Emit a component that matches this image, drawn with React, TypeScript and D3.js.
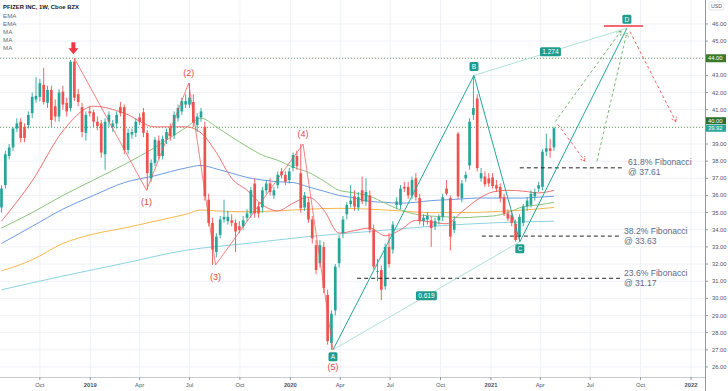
import React from 'react';
import * as d3 from 'd3';

const W = 728;
const H = 391;
const PLOT_RIGHT = 705;
const PLOT_BOTTOM = 377;
const FONT = '"Liberation Sans", Arial, sans-serif';
const UP = '#26a69a';
const DOWN = '#ef5350';

const firstBar = new Date(2018, 6, 23);
const WEEK_MS = 7 * 864e5;
const barDate = (i: number) => new Date(firstBar.getTime() + i * WEEK_MS);

// weekly bars: [open, high, low, close]
const weeklyBars: number[][] = [
  [35.3, 36.6, 35.0, 36.4], [36.6, 38.6, 36.4, 38.4], [38.3, 39.0, 38.1, 38.8], [38.8, 40.0, 38.6, 39.9],
  [39.9, 40.5, 39.7, 40.2], [40.3, 40.5, 39.1, 39.35], [40.0, 40.2, 39.1, 39.35], [40.1, 40.9, 39.9, 40.7],
  [40.8, 42.0, 40.5, 41.75], [41.6, 42.9, 41.4, 41.8], [41.75, 42.8, 41.5, 42.55], [42.45, 43.45, 41.3, 41.45],
  [41.4, 42.4, 41.1, 42.15], [42.15, 42.4, 40.0, 40.4], [41.2, 41.6, 40.3, 40.6], [40.6, 42.2, 40.3, 42.0],
  [42.05, 42.4, 41.0, 41.3], [41.4, 41.7, 40.6, 40.9], [41.1, 43.9, 40.9, 43.8], [43.8, 44.0, 41.5, 41.7],
  [41.9, 42.2, 41.2, 41.45], [41.15, 41.4, 39.4, 39.7], [39.65, 40.9, 39.2, 40.7], [40.9, 41.2, 40.6, 40.8],
  [40.85, 41.0, 40.0, 40.3], [40.3, 40.6, 39.8, 40.05], [40.2, 40.4, 38.2, 38.5], [38.4, 40.5, 37.5, 40.3],
  [40.3, 40.9, 40.0, 40.7], [40.0, 40.4, 39.7, 40.2], [40.2, 40.9, 39.9, 40.7], [41.15, 41.45, 40.6, 40.8],
  [41.15, 41.3, 38.4, 38.65], [38.65, 39.9, 38.4, 39.65], [39.55, 39.9, 39.3, 39.7], [39.65, 40.5, 39.4, 40.3],
  [40.55, 40.8, 40.1, 40.3], [40.85, 41.1, 39.4, 39.65], [39.65, 39.8, 36.35, 37.3], [37.0, 38.1, 36.8, 37.9],
  [37.9, 39.4, 37.7, 39.25], [39.2, 39.5, 38.1, 38.3], [38.3, 39.5, 38.1, 39.3], [39.25, 39.9, 39.0, 39.7],
  [39.95, 40.2, 39.2, 39.45], [39.5, 40.9, 39.3, 40.7], [40.5, 41.3, 40.3, 41.1], [40.9, 41.7, 40.7, 41.5],
  [41.3, 41.9, 41.1, 41.5], [41.3, 42.55, 41.1, 41.7], [41.45, 41.9, 40.0, 40.25], [40.1, 40.8, 39.7, 40.6],
  [40.55, 41.1, 40.3, 40.9], [40.0, 40.3, 35.7, 35.95], [35.75, 36.1, 34.2, 34.4], [34.4, 34.7, 31.95, 32.85],
  [32.7, 33.8, 32.4, 33.6], [33.7, 34.8, 33.5, 34.6], [34.6, 35.75, 34.4, 34.75], [34.5, 35.1, 34.3, 34.75],
  [34.55, 34.9, 34.2, 34.4], [34.4, 34.6, 32.7, 33.9], [34.2, 34.5, 33.8, 34.0], [34.2, 34.8, 34.0, 34.55],
  [34.7, 35.2, 34.5, 34.95], [34.95, 36.5, 34.7, 36.3], [36.7, 37.0, 34.7, 34.95], [35.35, 35.6, 34.7, 34.95],
  [35.3, 36.5, 35.0, 36.3], [36.3, 36.9, 36.1, 36.7], [36.7, 37.0, 36.0, 36.2], [36.0, 36.5, 35.8, 36.3],
  [36.6, 37.4, 36.4, 37.2], [37.4, 37.6, 37.0, 37.2], [37.2, 37.4, 36.6, 36.8], [36.9, 37.6, 36.7, 37.4],
  [37.6, 38.5, 37.4, 38.35], [38.3, 38.6, 37.5, 37.7], [37.3, 39.0, 35.0, 35.25], [35.3, 36.2, 35.1, 36.0],
  [35.6, 35.9, 34.4, 34.6], [34.6, 34.8, 33.2, 33.5], [33.1, 33.4, 31.4, 31.65], [32.05, 33.4, 31.8, 33.1],
  [33.0, 33.3, 30.3, 30.6], [30.2, 30.5, 27.3, 27.5], [27.4, 29.3, 27.0, 29.1], [29.3, 32.0, 29.0, 31.85],
  [32.05, 33.7, 31.8, 33.5], [33.8, 34.8, 33.5, 34.6], [34.9, 35.6, 34.6, 35.45], [35.5, 36.6, 35.3, 35.7],
  [35.95, 36.3, 35.1, 35.35], [35.3, 36.2, 35.1, 35.9], [36.3, 37.1, 35.5, 35.65], [35.65, 37.0, 35.4, 36.2],
  [36.0, 36.3, 33.8, 34.0], [34.0, 34.3, 31.7, 31.85], [31.55, 32.3, 31.0, 31.6], [31.65, 31.9, 29.9, 30.5],
  [30.7, 33.2, 30.5, 33.0], [33.0, 33.8, 31.8, 32.0], [32.85, 34.5, 32.6, 34.3], [35.45, 35.9, 35.2, 35.65],
  [35.45, 36.6, 35.2, 36.4], [36.5, 36.8, 36.2, 36.4], [36.5, 36.8, 35.8, 36.0], [36.0, 37.1, 35.8, 36.9],
  [37.0, 37.3, 35.7, 35.9], [35.85, 36.1, 34.3, 34.5], [34.5, 34.9, 34.2, 34.7], [34.6, 35.0, 34.3, 34.8],
  [34.55, 34.8, 33.0, 34.1], [34.2, 34.7, 34.0, 34.5], [34.55, 34.9, 34.3, 34.75], [34.75, 36.1, 34.5, 35.9],
  [36.4, 36.9, 36.0, 36.1], [35.85, 36.0, 32.8, 33.6], [34.0, 34.8, 33.8, 34.5], [39.6, 39.7, 35.8, 35.95],
  [35.85, 36.9, 35.6, 36.7], [37.0, 37.4, 36.8, 37.2], [37.75, 40.5, 37.5, 40.3], [40.7, 43.0, 40.4, 41.1],
  [41.65, 41.9, 37.4, 37.6], [37.0, 37.6, 36.8, 37.3], [37.1, 37.4, 36.5, 36.65], [37.0, 37.3, 36.5, 36.7],
  [37.05, 37.3, 36.4, 36.55], [36.6, 36.9, 36.2, 36.4], [36.5, 36.7, 35.6, 35.85], [35.9, 36.1, 34.8, 34.95],
  [34.95, 35.2, 34.5, 34.65], [34.85, 35.0, 34.2, 34.4], [34.35, 34.6, 33.3, 33.4], [33.6, 34.9, 33.3, 34.75],
  [34.4, 35.5, 34.2, 35.35], [35.35, 35.9, 35.1, 35.7], [35.45, 36.3, 35.3, 36.1], [35.95, 36.4, 35.7, 36.2],
  [36.4, 36.8, 36.2, 36.6], [36.5, 38.7, 36.3, 38.55], [38.55, 39.6, 38.3, 38.75], [38.75, 39.3, 38.2, 38.6],
  [38.8, 40.0, 38.6, 39.92],
];

// moving averages, sampled at bar indexes
const maSteps = [0, 8, 16, 24, 32, 40, 48, 52, 56, 60, 64, 68, 72, 76, 80, 84, 88, 92, 96, 100, 104, 108, 112, 116, 120, 124, 128, 132, 136, 140, 144];
const emaFast = [34.5, 36.85, 39.76, 41.2, 40.8, 40.0, 40.0, 39.65, 38.5, 37.0, 36.3, 35.45, 35.1, 35.55, 35.9, 35.15, 33.8, 33.95, 34.1, 33.65, 34.0, 34.55, 34.45, 34.35, 35.05, 35.75, 36.2, 36.3, 36.25, 36.15, 36.3];
const emaSlow = [34.1, 35.0, 36.0, 36.9, 37.8, 38.8, 39.95, 40.5, 40.0, 39.4, 38.85, 38.35, 38.05, 37.65, 37.35, 36.85, 36.3, 36.15, 35.95, 35.55, 35.15, 34.9, 34.8, 34.75, 34.7, 34.75, 34.8, 35.0, 35.35, 35.45, 35.6];
const maMid = [33.2, 34.2, 35.2, 36.0, 36.75, 37.15, 37.6, 37.75, 37.55, 37.3, 37.05, 36.9, 36.8, 36.75, 36.5, 36.25, 36.0, 35.85, 35.65, 35.6, 35.55, 35.6, 35.7, 35.75, 35.8, 35.85, 35.85, 35.85, 35.85, 35.9, 35.95];
const maLongSteps = [0, 8, 16, 24, 32, 40, 48, 52, 56, 64, 72, 80, 88, 96, 104, 112, 120, 128, 136, 144];
const maLong = [31.6, 32.25, 33.2, 33.75, 34.1, 34.5, 34.9, 35.15, 35.1, 35.05, 35.1, 35.2, 35.25, 35.2, 35.1, 35.0, 35.0, 35.05, 35.15, 35.3];
const maSlowSteps = [0, 16, 32, 48, 64, 80, 96, 112, 128, 144];
const maSlowest = [30.5, 31.3, 32.05, 32.8, 33.2, 33.6, 33.9, 34.2, 34.4, 34.5];

// elliott wave count
const waveIdx = [19, 37.8, 48.8, 55.8, 78.6, 86.4];
const wavePrice = [44.0, 36.3, 42.55, 31.95, 39.0, 27.0];
const waveLabels = ['', '(1)', '(2)', '(3)', '(4)', '(5)'];

// ABCD pattern
const abcdIdx = [86.4, 123.15, 135.1, 163.0];
const abcdPrice = [27.0, 43.0, 33.3, 45.75];
const abcdLabels = ['A', 'B', 'C', 'D'];
const ratioLabels = ['0.619', '1.274'];

// fibonacci levels
const fibPrices = [37.61, 33.63, 31.17];
const fibNames = ['61.8% Fibonacci', '38.2% Fibonacci', '23.6% Fibonacci'];
const fibStart = [135.1, 125.2, 92.7];
const fibEnd = [162.0, 161.2, 161.2];

// projected paths
const projFromIdx = [144.3, 145.0, 155.2, 163.8];
const projFromPrice = [40.3, 40.15, 38.0, 45.55];
const projToIdx = [161.5, 152.1, 163.0, 175.8];
const projToPrice = [45.6, 38.0, 45.5, 40.3];
const projUp = [true, false, true, false];

const priceTicks = [26, 27, 28, 29, 30, 31, 32, 33, 34, 35, 36, 37, 38, 39, 40, 41, 42, 43, 44, 45, 46];
const timeTicks = [new Date(2018, 9, 1), new Date(2019, 0, 1), new Date(2019, 3, 1), new Date(2019, 6, 1), new Date(2019, 9, 1), new Date(2020, 0, 1), new Date(2020, 3, 1), new Date(2020, 6, 1), new Date(2020, 9, 1), new Date(2021, 0, 1), new Date(2021, 3, 1), new Date(2021, 6, 1), new Date(2021, 9, 1), new Date(2022, 0, 1)];
const timeLabels = ['Oct', '2019', 'Apr', 'Jul', 'Oct', '2020', 'Apr', 'Jul', 'Oct', '2021', 'Apr', 'Jul', 'Oct', '2022'];
const legendItems = ['EMA', 'EMA', 'MA', 'MA', 'MA'];
const hLevels = [44, 40];
const lastPrice = 39.92;
const dTargetPrice = 45.88;

function arrowHead(x1: number, y1: number, x2: number, y2: number, len = 5) {
  const a = Math.atan2(y2 - y1, x2 - x1);
  const p1 = [x2 - len * Math.cos(a - 0.55), y2 - len * Math.sin(a - 0.55)];
  const p2 = [x2 - len * Math.cos(a + 0.55), y2 - len * Math.sin(a + 0.55)];
  return `M${p1[0]},${p1[1]}L${x2},${y2}L${p2[0]},${p2[1]}`;
}

export default function App() {
  const x = d3.scaleTime().domain([firstBar, new Date(2022, 0, 1)]).range([1.5, 691]);
  const y = d3.scaleLinear().domain([26, 46]).range([366.95, 23.95]);
  const xi = (i: number) => x(barDate(i));

  const maLine = d3.line<number>().curve(d3.curveMonotoneX);
  const maPath = (steps: number[], vals: number[]) =>
    maLine.x((_, k) => xi(steps[k])).y((v) => y(v))(vals) || '';

  const straight = (idx: number[], prices: number[]) =>
    d3.line<number>().x((_, k) => xi(idx[k])).y((p) => y(p))(prices) || '';

  const fmt = d3.format('.2f');

  return (
    <div style={{ position: 'absolute', left: 0, top: 0 }}>
      <svg width={W} height={H} style={{ display: 'block', background: '#fff' }} fontFamily={FONT}>
        {/* grid */}
        {priceTicks.map((p) => (
          <line key={'hg' + p} x1={0} x2={PLOT_RIGHT} y1={y(p)} y2={y(p)} stroke="#eef1f6" strokeWidth={1} />
        ))}
        {timeTicks.map((d, k) => (
          <line key={'vg' + k} x1={x(d)} x2={x(d)} y1={0} y2={PLOT_BOTTOM} stroke="#eef1f6" strokeWidth={1} />
        ))}

        {/* horizontal levels */}
        {hLevels.map((p) => (
          <line key={'lv' + p} x1={0} x2={PLOT_RIGHT} y1={y(p) + (p === 40 ? 0.5 : 0)} y2={y(p) + (p === 40 ? 0.5 : 0)}
            stroke="#6f9a5e" strokeWidth={1} strokeDasharray="1,2" />
        ))}

        {/* moving averages */}
        <path d={maPath(maSlowSteps, maSlowest)} fill="none" stroke="#8fd3e0" strokeWidth={1} />
        <path d={maPath(maLongSteps, maLong)} fill="none" stroke="#f6b84e" strokeWidth={1} />
        <path d={maPath(maSteps, maMid)} fill="none" stroke="#6d9be0" strokeWidth={1} />
        <path d={maPath(maSteps, emaSlow)} fill="none" stroke="#8cc47c" strokeWidth={1} />
        <path d={maPath(maSteps, emaFast)} fill="none" stroke="#f07070" strokeWidth={1} />

        {/* candles */}
        {weeklyBars.map(([o, h, l, c], i) => {
          const cx = xi(i);
          const col = c >= o ? UP : DOWN;
          const top = y(Math.max(o, c));
          const bot = y(Math.min(o, c));
          return (
            <g key={'c' + i}>
              <line x1={cx} x2={cx} y1={y(h)} y2={y(l)} stroke={col} strokeWidth={0.9} />
              <rect x={cx - 1.35} y={top} width={2.7} height={Math.max(0.9, bot - top)} fill={col} />
            </g>
          );
        })}

        {/* fibonacci levels */}
        {fibPrices.map((p, k) => (
          <g key={'fib' + k}>
            <line x1={xi(fibStart[k])} x2={xi(fibEnd[k])} y1={y(p)} y2={y(p)} stroke="#222" strokeWidth={1} strokeDasharray="4,3" />
            <text x={xi(fibEnd[k]) + 4 + (k === 0 ? 1 : 0)} y={y(p) - 2.5} fontSize={8.6} fill="#5c6b86">{fibNames[k]}</text>
            <text x={xi(fibEnd[k]) + 4 + (k === 0 ? 1 : 0)} y={y(p) + 7.5} fontSize={8.6} fill="#5c6b86">{'@ ' + fmt(p)}</text>
          </g>
        ))}

        {/* elliott count */}
        <path d={straight(waveIdx, wavePrice)} fill="none" stroke="#ef5350" strokeWidth={0.8} opacity={0.9} />
        {waveLabels.map((t, k) => t && (
          <text key={'w' + k} x={xi(waveIdx[k])} y={y(wavePrice[k]) + (k % 2 === 1 ? (k === 5 ? 20 : 15) : -7)}
            fontSize={9} fill="#e0484b" textAnchor="middle">{t}</text>
        ))}
        {/* red arrow above the top */}
        {(() => {
          const ax = xi(waveIdx[0]) - 1;
          const ay = y(wavePrice[0]) - 5;
          return <path d={`M${ax - 2},${ay - 11}h4v6h3l-5,6l-5,-6h3z`} fill="#f23645" />;
        })()}

        {/* ABCD */}
        <line x1={xi(abcdIdx[0])} y1={y(abcdPrice[0])} x2={xi(abcdIdx[2])} y2={y(abcdPrice[2])} stroke="#a6dcd4" strokeWidth={0.9} />
        <line x1={xi(abcdIdx[1])} y1={y(abcdPrice[1])} x2={xi(abcdIdx[3])} y2={y(abcdPrice[3])} stroke="#a6dcd4" strokeWidth={0.9} />
        <path d={straight(abcdIdx, abcdPrice)} fill="none" stroke="#26a69a" strokeWidth={1} />

        {/* projections */}
        {projFromIdx.map((fi, k) => {
          const x1 = xi(fi), y1 = y(projFromPrice[k]);
          const x2 = xi(projToIdx[k]), y2 = y(projToPrice[k]);
          const col = projUp[k] ? '#66b25f' : '#ef5350';
          return (
            <g key={'pj' + k}>
              <line x1={x1} y1={y1} x2={x2} y2={y2} stroke={col} strokeWidth={0.9} strokeDasharray="3,2.5" />
              <path d={arrowHead(x1, y1, x2, y2)} fill="none" stroke={col} strokeWidth={0.9} strokeDasharray="2,1" />
            </g>
          );
        })}
        <line x1={xi(157)} x2={xi(167.2)} y1={y(dTargetPrice)} y2={y(dTargetPrice)} stroke="#f23645" strokeWidth={1.6} />

        {/* ratio labels */}
        {ratioLabels.map((t, k) => {
          const mx = (xi(abcdIdx[k]) + xi(abcdIdx[k + 2])) / 2;
          const my = (y(abcdPrice[k]) + y(abcdPrice[k + 2])) / 2;
          return (
            <g key={'r' + k}>
              <rect x={mx - 10.5} y={my - 4.5} width={21} height={9} rx={1.5} fill="#1f9c8c" />
              <text x={mx} y={my + 2.3} fontSize={6.6} fill="#fff" textAnchor="middle">{t}</text>
            </g>
          );
        })}
        {abcdLabels.map((t, k) => {
          const off = k % 2 === 0 ? 7 : -9;
          const cx = xi(abcdIdx[k]);
          const cy = y(abcdPrice[k]) + off;
          return (
            <g key={'l' + t}>
              <rect x={cx - 4.5} y={cy - 4.5} width={9} height={9} rx={1.5} fill="#1f9c8c" />
              <text x={cx} y={cy + 2.4} fontSize={6.6} fill="#fff" textAnchor="middle">{t}</text>
            </g>
          );
        })}

        {/* axes */}
        <rect x={PLOT_RIGHT} y={0} width={W - PLOT_RIGHT} height={H} fill="#fff" />
        <rect x={0} y={PLOT_BOTTOM} width={W} height={H - PLOT_BOTTOM} fill="#fff" />
        <line x1={PLOT_RIGHT + 0.5} x2={PLOT_RIGHT + 0.5} y1={0} y2={H} stroke="#9598a1" strokeWidth={1} />
        <line x1={0} x2={PLOT_RIGHT} y1={PLOT_BOTTOM + 0.5} y2={PLOT_BOTTOM + 0.5} stroke="#c9ccd3" strokeWidth={1} />
        {priceTicks.map((p) => (
          <g key={'pt' + p}>
            <line x1={PLOT_RIGHT} x2={PLOT_RIGHT + 3} y1={y(p)} y2={y(p)} stroke="#9598a1" />
            {!hLevels.includes(p) && (
              <text x={712} y={y(p) + 2} fontSize={5.8} fill="#50535e">{fmt(p)}</text>
            )}
          </g>
        ))}
        {timeTicks.map((d, k) => (
          <g key={'tt' + k}>
            <line x1={x(d)} x2={x(d)} y1={PLOT_BOTTOM} y2={PLOT_BOTTOM + 3} stroke="#9598a1" />
            <text x={x(d)} y={386.5} fontSize={5.8} fill="#50535e" textAnchor="middle"
              fontWeight={/^\d/.test(timeLabels[k]) ? 700 : 400}>{timeLabels[k]}</text>
          </g>
        ))}
        <rect x={709} y={2} width={15} height={8} rx={1.5} fill="#fff" stroke="#d1d4dc" strokeWidth={0.6} />
        <text x={716.5} y={8} fontSize={5.2} fill="#50535e" textAnchor="middle">USD</text>

        {/* price tags */}
        <rect x={706} y={y(44) - 4} width={20} height={8} fill="#3b7a2a" />
        <text x={708} y={y(44) + 2} fontSize={5.8} fill="#fff">{fmt(44)}</text>
        <rect x={706} y={y(lastPrice) - 11} width={20} height={7} fill="#2f6f2e" />
        <text x={708} y={y(lastPrice) - 5.5} fontSize={5.8} fill="#fff">{fmt(40)}</text>
        <rect x={706} y={y(lastPrice) - 3.5} width={20} height={7} fill="#26a69a" />
        <text x={708} y={y(lastPrice) + 2} fontSize={5.8} fill="#fff">{fmt(lastPrice)}</text>

        {/* legend */}
        <text x={3} y={9} fontSize={5.9} fontWeight={700} fill="#131722">PFIZER INC, 1W, Cboe BZX</text>
        {legendItems.map((t, k) => (
          <text key={'lg' + k} x={3} y={17.5 + k * 8} fontSize={6.2} fill="#6a6d78">{t}</text>
        ))}
      </svg>
    </div>
  );
}
